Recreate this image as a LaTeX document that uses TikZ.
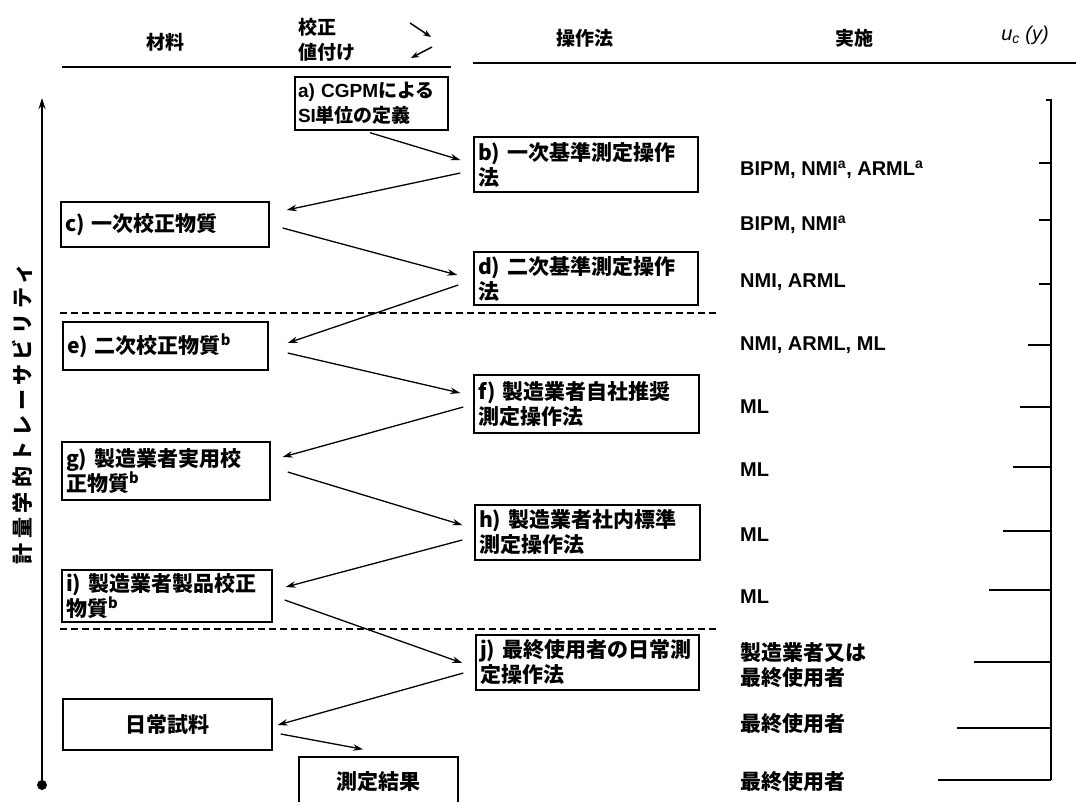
\documentclass[tikz,border=0pt]{standalone}
\usepackage{fontspec}
\setmainfont{Noto Sans CJK JP}
\newfontfamily\lsans{Liberation Sans}
\usetikzlibrary{arrows.meta}
\begin{document}
\begin{tikzpicture}[x=1pt,y=-1pt,
  jp/.style={font=\fontsize{21}{25}\selectfont\bfseries},
  hd/.style={font=\fontsize{19}{23}\selectfont\bfseries, inner sep=0pt},
  box/.style={draw, line width=1.4pt, inner xsep=4pt, inner ysep=0pt, align=left, jp},
  lbl/.style={jp, inner sep=0pt},
  rlbl/.style={jp, inner sep=0pt, anchor=west, align=left},
  rlat/.style={font=\lsans\fontsize{20}{24}\selectfont\bfseries, inner sep=0pt, anchor=west},
  conn/.style={line width=1.3pt, -{Stealth[length=10pt,width=6.5pt]}},
  hconn/.style={line width=1.5pt, -{Stealth[length=8pt,width=6pt]}},
  rule/.style={line width=1.6pt},
  sep/.style={line width=1.2pt, dash pattern=on 7pt off 4pt},
  tick/.style={line width=1.1pt}]
\useasboundingbox (0,0) rectangle (1076,801);
\fill[white] (0,0) rectangle (1076,801);

% header
\node[hd] (hmat) at (165,42) {材料};
\node[hd, anchor=west] (hcal1) at (298,27) {校正};
\node[hd, anchor=west] (hcal2) at (298,52) {値付け};
\coordinate (ha1) at (410,23); \coordinate (ha2) at (431,37);
\coordinate (hb1) at (432,47); \coordinate (hb2) at (411,58);
\draw[hconn] (ha1) -- (ha2);
\draw[hconn] (hb1) -- (hb2);
\node[hd] (hop) at (585,38) {操作法};
\node[hd] (himp) at (854,38) {実施};
\node[inner sep=0pt, font=\lsans\fontsize{20}{24}\selectfont\itshape] (huc) at (1025,35) {u\textsubscript{c} (y)};
\coordinate (hl1) at (62,67); \coordinate (hl2) at (451,67);
\coordinate (hr1) at (473,63); \coordinate (hr2) at (1076,63);
\draw[rule] (hl1) -- (hl2);
\draw[rule] (hr1) -- (hr2);

% axis
\coordinate (axb) at (42,785); \coordinate (axt) at (42,98);
\draw[line width=1.3pt, -{Stealth[length=11pt,width=7pt]}] (axb) -- (axt);
\fill (axb) circle (5pt);
\node[inner sep=0pt, rotate=90, font=\fontsize{21}{25}\selectfont\bfseries\addfontfeature{LetterSpace=22}] (axl) at (22,414) {計量学的トレーサビリティ};

% dashed separators
\coordinate (s1a) at (60,313); \coordinate (s1b) at (718,313);
\coordinate (s2a) at (60,629); \coordinate (s2b) at (718,629);
\draw[sep] (s1a) -- (s1b);
\draw[sep] (s2a) -- (s2b);

% boxes
\node[box, inner xsep=3pt, text width=147pt, minimum height=53pt, font=\fontsize{19}{25}\selectfont\bfseries] (a) at (371.5,103.5) {{\lsans\bfseries a) CGPM}による\\{\lsans\bfseries SI}単位の定義};
\node[box, text width=216pt, minimum height=55pt] (b) at (586,164.5) {b) 一次基準測定操作\\法};
\node[box, text width=200pt, minimum height=45pt] (c) at (165,224.5) {c) 一次校正物質};
\node[box, text width=216pt, minimum height=53pt] (d) at (586,278.5) {d) 二次基準測定操作\\法};
\node[box, text width=197pt, minimum height=48pt] (e) at (165.5,346) {e) 二次校正物質\textsuperscript{b}};
\node[box, text width=217pt, minimum height=58pt] (f) at (586.5,404) {f) 製造業者自社推奨\\測定操作法};
\node[box, text width=200pt, minimum height=58pt] (g) at (166,471) {g) 製造業者実用校\\正物質\textsuperscript{b}};
\node[box, text width=217pt, minimum height=55pt] (h) at (587.5,532.5) {h) 製造業者社内標準\\測定操作法};
\node[box, text width=202pt, minimum height=52pt] (i) at (167,596) {i) 製造業者製品校正\\物質\textsuperscript{b}};
\node[box, text width=215pt, minimum height=55pt] (j) at (587.5,662.5) {j) 最終使用者の日常測\\定操作法};
\node[box, align=center, text width=201pt, minimum height=51pt] (n) at (167.5,724.5) {日常試料};
\node[box, align=center, text width=151pt, minimum height=49pt] (m) at (378.5,781.5) {測定結果};

% connectors
\draw[conn] ([shift={(-1.5,2)}]a.south) -- ([shift={(-13,-4.5)}]b.west);
\draw[conn] ([shift={(-13,8.5)}]b.west) -- ([shift={(17,-14.5)}]c.east);
\draw[conn] ([shift={(13,3.5)}]c.east) -- ([shift={(-16,-3.5)}]d.west);
\draw[conn] ([shift={(-15,6.5)}]d.west) -- ([shift={(19,-3)}]e.east);
\draw[conn] ([shift={(19,7)}]e.east) -- ([shift={(-13,-11)}]f.west);
\draw[conn] ([shift={(-10,3)}]f.west) -- ([shift={(12,-14)}]g.east);
\draw[conn] ([shift={(17,1)}]g.east) -- ([shift={(-12,-7.5)}]h.west);
\draw[conn] ([shift={(-12,7.5)}]h.west) -- ([shift={(13,-9)}]i.east);
\draw[conn] ([shift={(12,4)}]i.east) -- ([shift={(-13,0.5)}]j.west);
\draw[conn] ([shift={(-12,10.5)}]j.west) -- ([shift={(5,0.5)}]n.east);
\draw[conn] ([shift={(8,9.5)}]n.east) -- ([shift={(-15.5,-7)}]m.north);

% implementers
\node[rlat] (r1) at (740,170) {BIPM, NMI\textsuperscript{a}, ARML\textsuperscript{a}};
\node[rlat] (r2) at (740,225) {BIPM, NMI\textsuperscript{a}};
\node[rlat] (r3) at (740,282) {NMI, ARML};
\node[rlat] (r4) at (740,345) {NMI, ARML, ML};
\node[rlat] (r5) at (740,407) {ML};
\node[rlat] (r6) at (740,470) {ML};
\node[rlat] (r7) at (740,535) {ML};
\node[rlat] (r8) at (740,597) {ML};
\node[rlbl] (r9) at (740,665) {製造業者又は\\最終使用者};
\node[rlbl] (r10) at (740,724) {最終使用者};
\node[rlbl] (r11) at (740,782) {最終使用者};

% uncertainty scale
\draw[tick] (1046,100) -- (1051,100) -- (1051,780);
\foreach \y/\x in {163/1039, 220/1039, 284/1039, 345/1028, 407/1020, 467/1013, 531/1003, 590/989, 662/974, 728/957, 780/938}
  \draw[tick] (\x,\y) -- (1051,\y);
\end{tikzpicture}
\end{document}
